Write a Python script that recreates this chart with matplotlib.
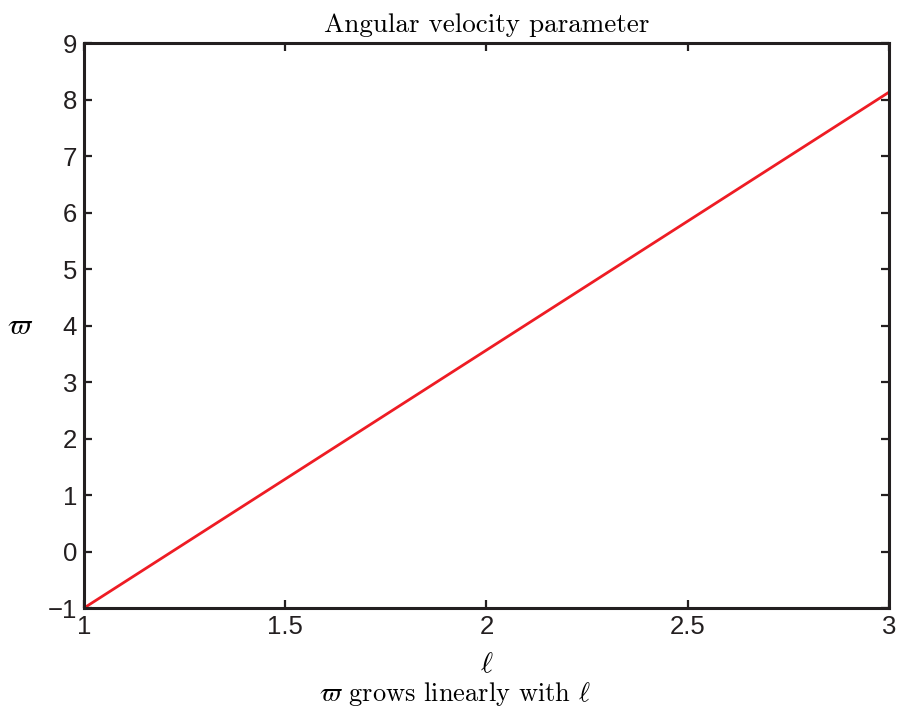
import numpy as np
import matplotlib
matplotlib.use('Agg')
import matplotlib.pyplot as plt

plt.rcParams['mathtext.fontset'] = 'cm'

# data
ell = [1.0, 3.0]
varpi = [-1.0, 8.13]
xticks = [1, 1.5, 2, 2.5, 3]
yticks = list(range(-1, 10))

fig = plt.figure(figsize=(9.04, 7.17), dpi=100)
ax = fig.add_axes([0.0929, 0.152, 0.8905, 0.788])

ax.plot(ell, varpi, color='#ee1c24', linewidth=2.0, solid_capstyle='round')

ax.set_xlim(1, 3)
ax.set_ylim(-1, 9)
ax.set_xticks(xticks)
ax.set_xticklabels(['1', '1.5', '2', '2.5', '3'])
ax.set_yticks(yticks)
ax.set_yticklabels([('\u2212%d' % -v) if v < 0 else str(v) for v in yticks])

for lab in ax.get_xticklabels() + ax.get_yticklabels():
    lab.set_fontfamily('Liberation Sans')
    lab.set_fontsize(18.5)

ax.tick_params(direction='in', length=6, width=1.6, top=True, right=True,
               colors='#231f20', labelcolor='#231f20', pad=5)
for s in ax.spines.values():
    s.set_linewidth(2.2)
    s.set_color('#231f20')

ax.set_title('Angular velocity parameter', fontfamily='cmr10', fontsize=19.5, pad=8)
ax.set_xlabel(r'$\ell$', fontsize=21, labelpad=8)
ax.set_ylabel(r'$\varpi$', fontsize=21, rotation=0, labelpad=20, va='center')

fig.text(0.503, 0.022, r'$\varpi$ grows linearly with $\ell$', fontfamily='cmr10',
         fontsize=19, ha='center', va='baseline')

fig.savefig('out.png', dpi=100)
